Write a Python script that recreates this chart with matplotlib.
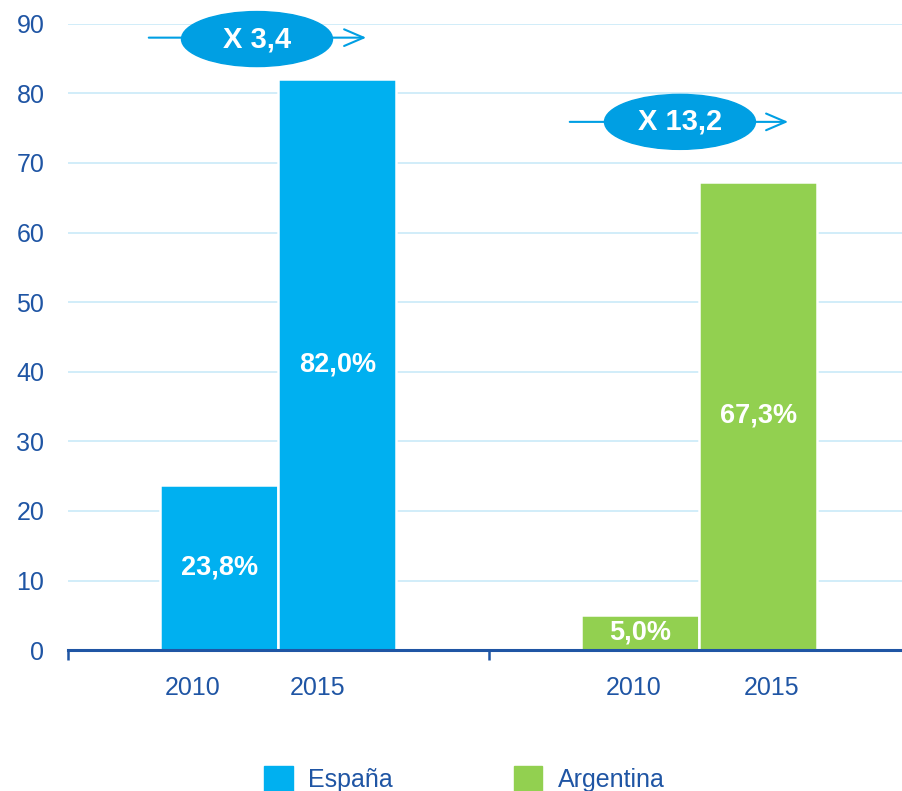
import matplotlib.pyplot as plt
from matplotlib.patches import Ellipse, Patch

plt.rcParams['font.family'] = ['Liberation Sans', 'DejaVu Sans']

# datos
paises = ['España', 'Argentina']
anios = ['2010', '2015']
espana = [23.8, 82.0]
argentina = [5.0, 67.3]
etiquetas_esp = ['23,8%', '82,0%']
etiquetas_arg = ['5,0%', '67,3%']
multiplicadores = ['X 3,4', 'X 13,2']

azul = '#00B0F0'
verde = '#92D050'
azul_oscuro = '#1F55A4'
azul_ovalo = '#009FE3'
rejilla = '#C9EAF8'

fig = plt.figure(figsize=(9.03, 7.91), dpi=100)
# el eje x sigue un poco más allá del borde derecho, como en el original
ax = fig.add_axes([0.0753, 0.178, 0.9324, 0.792])
px = 421.0  # píxeles por unidad en x

ancho = 118 / px
centros = [0.5, 1.5]
colores = [azul, verde]
valores = [espana, argentina]
etiquetas = [etiquetas_esp, etiquetas_arg]

for c, vals, col, labs in zip(centros, valores, colores, etiquetas):
    xs = [c - ancho / 2, c + ancho / 2]
    bars = ax.bar(xs, vals, width=ancho, color=col, edgecolor='white',
                  linewidth=1.8, zorder=3)
    for b, v, t in zip(bars, vals, labs):
        ax.text(b.get_x() + b.get_width() / 2, v / 2, t, ha='center', va='center',
                color='white', fontsize=19.5, fontweight='bold', zorder=4)

# etiquetas de años
pos_anios = [(x - 68) / px for x in (193, 318, 634, 772)]
for x, t in zip(pos_anios, anios * 2):
    ax.text(x, -5.4, t, ha='center', va='center', color=azul_oscuro, fontsize=18)

# óvalos con flechas
ovalos = [(257, 87.8, 146, 369, 88.0), (680, 75.9, 567, 791, 75.9)]
for (cx, cy, x0, x1, ly), t in zip(ovalos, multiplicadores):
    cx, x0, x1 = [(v - 68) / px for v in (cx, x0, x1)]
    ax.annotate('', xy=(x1, ly), xytext=(x0, ly),
                arrowprops=dict(arrowstyle='->,head_length=1.4,head_width=0.6',
                                color=azul_ovalo, lw=1.5),
                annotation_clip=False, zorder=5)
    ax.add_patch(Ellipse((cx, cy), 151 / px, 7.9, color=azul_ovalo, zorder=6,
                         clip_on=False))
    ax.text(cx, cy, t, ha='center', va='center', color='white', fontsize=21,
            fontweight='bold', zorder=7)

ax.set_xlim(0, 2)
ax.set_ylim(0, 90)
ax.set_yticks(range(0, 91, 10))
ax.set_xticks([0, 1, 2])
ax.set_xticklabels([])
ax.yaxis.grid(True, color=rejilla, linewidth=1.2, zorder=0)
ax.set_axisbelow(True)
for s in ['top', 'right', 'left']:
    ax.spines[s].set_visible(False)
ax.spines['bottom'].set_color(azul_oscuro)
ax.spines['bottom'].set_linewidth(2.2)
ax.spines['bottom'].set_zorder(5)
ax.tick_params(axis='y', length=0, pad=17, labelsize=18, labelcolor=azul_oscuro)
ax.tick_params(axis='x', length=7, width=1.8, color=azul_oscuro, direction='out')

handles = [Patch(color=azul), Patch(color=verde)]
fig.legend(handles, paises, loc='center', bbox_to_anchor=(0.514, 0.015), ncol=2,
           frameon=False, fontsize=18, handlelength=1.15, handleheight=1.15,
           columnspacing=4.85, handletextpad=0.6, labelcolor=azul_oscuro)

plt.savefig('out.png', dpi=100)
